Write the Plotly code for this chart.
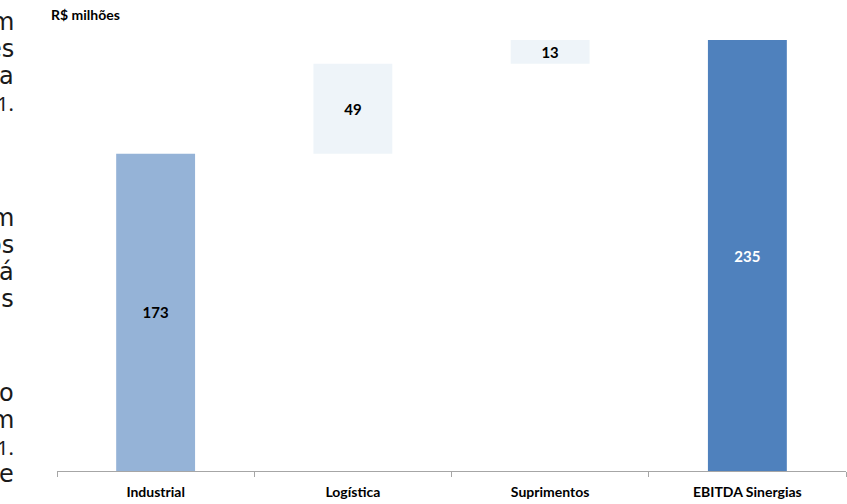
import plotly.graph_objects as go

categories = ["Industrial", "Logística", "Suprimentos", "EBITDA Sinergias"]
values = [173, 49, 13, 235]
kinds = ["start", "delta", "delta", "total"]
bar_colors = ["#95B3D7", "#EEF4F9", "#EEF4F9", "#4F81BD"]
label_colors = ["#000000", "#000000", "#000000", "#FFFFFF"]

# left-hand cut-off paragraph fragments (from the surrounding document)
frag_text = ["m", "es", "a", "1.", "m", "os", "á", "us", "o", "m", "1.", "e"]
frag_y = [22, 49, 76, 103, 218, 245, 272, 299, 393, 420, 447, 474]

# floating bar bases from the running total
bases = []
running = 0
for v, k in zip(values, kinds):
    if k == "delta":
        bases.append(running)
        running += v
    else:
        bases.append(0)
        running = v

fig = go.Figure()
fig.add_trace(go.Bar(
    x=categories,
    y=values,
    base=bases,
    width=0.4,
    marker=dict(color=bar_colors, line=dict(width=0)),
    text=[str(v) for v in values],
    textposition="inside",
    insidetextanchor="middle",
    textangle=0,
    textfont=dict(family="Lato", size=15, color=label_colors, weight="bold"),
    hoverinfo="skip",
))

fig.update_layout(
    width=847, height=504,
    margin=dict(l=57, r=1, t=40, b=33),
    paper_bgcolor="white", plot_bgcolor="white",
    showlegend=False,
    bargap=0.6,
)
fig.update_xaxes(
    showline=True, linecolor="#A6A6A6", linewidth=1,
    ticks="outside", tickson="boundaries", ticklen=5, tickcolor="#A6A6A6",
    tickfont=dict(family="Lato", size=14, color="#000000", weight="bold"),
    ticklabelstandoff=8,
    showgrid=False, zeroline=False, fixedrange=True,
)
fig.update_yaxes(visible=False, range=[0, 235], fixedrange=True)

fig.add_annotation(
    xref="paper", yref="paper", x=(49 - 57) / 789, y=1 + (40 - 15) / 431,
    xanchor="left", yanchor="middle", showarrow=False,
    text="<b>R$ milhões</b>", font=dict(family="Lato", size=14, color="#000000"),
)

for t, yy in zip(frag_text, frag_y):
    is_num = t[0].isdigit()
    fig.add_annotation(
        xref="paper", yref="paper",
        x=(16 - 57) / 789, y=(471 - yy) / 431,
        xanchor="right", yanchor="middle", showarrow=False,
        text=t,
        font=dict(family="Noto Sans" if is_num else "DejaVu Sans",
                  size=20 if is_num else 24, color="#1a1a1a"),
    )

fig.write_html("out.html")
